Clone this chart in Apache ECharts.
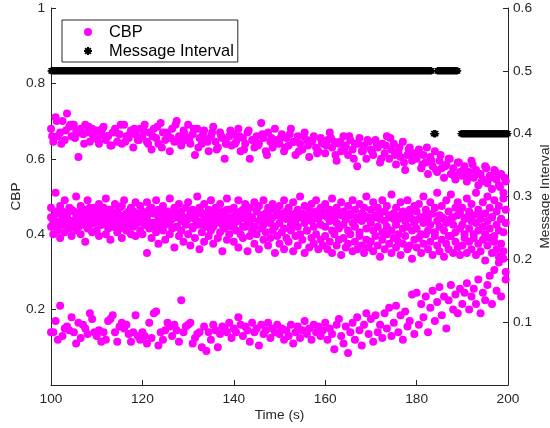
<!DOCTYPE html>
<html>
<head>
<meta charset="utf-8">
<script src="https://cdn.jsdelivr.net/npm/echarts@6/dist/echarts.min.js"></script>
<style>
html,body{margin:0;padding:0;background:#fff;}
#chart{width:550px;height:428px;}
</style>
</head>
<body>
<div id="chart"></div>
<script>
// ---- time grid for CBP samples ----
const tStart = 100;
const tStep = 0.5;
const tStartSparse = 100.25;
const tStepSparse = 1;

// ---- CBP values (upper band) ----
const cbpUpper = [
0.68,0.645,0.71,0.66,0.67,0.70,0.65,0.72,0.685,0.66, 0.69,0.675,0.605,0.68,0.665,0.69,0.67,0.645,0.68,0.655,
0.675,0.64,0.665,0.685,0.65,0.66,0.635,0.67,0.68,0.645, 0.665,0.64,0.69,0.66,0.655,0.675,0.63,0.665,0.65,0.68,
0.66,0.69,0.645,0.67,0.625,0.68,0.655,0.64,0.695,0.67, 0.65,0.665,0.62,0.68,0.645,0.70,0.66,0.635,0.675,0.65,
0.69,0.64,0.665,0.61,0.68,0.655,0.64,0.675,0.65,0.62, 0.66,0.685,0.645,0.63,0.67,0.655,0.60,0.64,0.66,0.635,
0.665,0.645,0.68,0.62,0.655,0.64,0.67,0.60,0.65,0.63, 0.66,0.64,0.695,0.655,0.62,0.67,0.645,0.63,0.68,0.65,
0.64,0.665,0.62,0.655,0.635,0.68,0.645,0.61,0.66,0.64, 0.625,0.67,0.65,0.605,0.645,0.66,0.63,0.62,0.655,0.64,
0.615,0.65,0.67,0.63,0.645,0.595,0.64,0.62,0.66,0.635, 0.61,0.65,0.625,0.64,0.58,0.655,0.62,0.635,0.60,0.645,
0.625,0.61,0.65,0.63,0.59,0.64,0.615,0.66,0.60,0.625, 0.64,0.585,0.62,0.605,0.645,0.57,0.61,0.63,0.595,0.615,
0.60,0.625,0.575,0.61,0.59,0.56,0.605,0.58,0.62,0.565, 0.595,0.575,0.55,0.585,0.60,0.56,0.575,0.545,0.59,0.565,
0.555,0.58,0.54,0.565,0.595,0.55,0.57,0.53,0.56,0.545, 0.58,0.535,0.555,0.52,0.57,0.545,0.53,0.56,0.51,0.54
];

// ---- CBP values (upper band, extra sparse samples) ----
const cbpUpper2 = [
0.66,0.70,0.64,0.675,0.69,0.655,0.67,0.64,0.685,0.66,
0.65,0.68,0.66,0.635,0.67,0.69,0.645,0.665,0.68,0.65,
0.675,0.64,0.66,0.685,0.63,0.67,0.655,0.69,0.645,0.665,
0.655,0.68,0.63,0.665,0.645,0.67,0.625,0.66,0.64,0.675,
0.64,0.66,0.625,0.675,0.65,0.635,0.665,0.61,0.655,0.64,
0.655,0.63,0.665,0.645,0.62,0.66,0.635,0.65,0.615,0.645,
0.635,0.655,0.61,0.645,0.625,0.66,0.60,0.64,0.62,0.65,
0.62,0.64,0.60,0.635,0.655,0.61,0.63,0.59,0.625,0.605,
0.615,0.585,0.63,0.595,0.57,0.61,0.58,0.60,0.555,0.59,
0.57,0.55,0.585,0.56,0.54,0.575,0.55,0.565,0.525,0.55
];

// ---- CBP values (middle band, upper part) ----
const cbpMiddleA = [
0.47,0.44,0.51,0.455,0.43,0.46,0.49,0.445,0.47,0.435, 0.46,0.50,0.45,0.475,0.44,0.465,0.49,0.455,0.43,0.47,
0.455,0.48,0.44,0.47,0.495,0.45,0.465,0.435,0.48,0.46, 0.445,0.475,0.49,0.455,0.44,0.47,0.46,0.485,0.45,0.475,
0.46,0.44,0.485,0.455,0.47,0.43,0.49,0.465,0.45,0.475, 0.44,0.46,0.495,0.455,0.47,0.445,0.48,0.46,0.435,0.47,
0.485,0.45,0.465,0.44,0.50,0.47,0.455,0.48,0.445,0.465, 0.49,0.455,0.47,0.44,0.48,0.46,0.45,0.495,0.465,0.44,
0.47,0.455,0.49,0.445,0.465,0.48,0.45,0.47,0.44,0.485, 0.46,0.475,0.445,0.49,0.455,0.47,0.43,0.48,0.465,0.45,
0.475,0.445,0.49,0.46,0.47,0.44,0.485,0.455,0.465,0.50, 0.45,0.475,0.44,0.465,0.48,0.455,0.49,0.445,0.47,0.46,
0.48,0.45,0.465,0.495,0.44,0.47,0.455,0.485,0.46,0.44, 0.475,0.45,0.49,0.465,0.44,0.48,0.455,0.47,0.50,0.445,
0.465,0.485,0.45,0.47,0.44,0.49,0.46,0.475,0.445,0.505, 0.455,0.47,0.44,0.485,0.46,0.45,0.49,0.465,0.44,0.475,
0.46,0.48,0.445,0.50,0.465,0.44,0.485,0.455,0.47,0.51, 0.45,0.475,0.44,0.49,0.46,0.505,0.445,0.47,0.485,0.455,
0.47,0.44,0.495,0.46,0.48,0.45,0.51,0.465,0.44,0.485, 0.455,0.50,0.47,0.445,0.49,0.46,0.475,0.44,0.495,0.465
];

// ---- CBP values (middle band, core) ----
const cbpMiddleC = [
0.445,0.43,0.46,0.42,0.475,0.44,0.425,0.455,0.43,0.465, 0.42,0.445,0.435,0.46,0.425,0.45,0.44,0.47,0.43,0.445,
0.435,0.46,0.425,0.45,0.43,0.465,0.44,0.455,0.42,0.445, 0.47,0.43,0.45,0.435,0.46,0.425,0.445,0.43,0.455,0.44,
0.45,0.425,0.44,0.465,0.43,0.455,0.42,0.445,0.435,0.46, 0.425,0.45,0.43,0.44,0.465,0.42,0.455,0.435,0.445,0.43,
0.44,0.455,0.42,0.45,0.435,0.465,0.425,0.44,0.455,0.43, 0.445,0.42,0.46,0.435,0.45,0.425,0.44,0.465,0.43,0.445,
0.425,0.45,0.435,0.46,0.42,0.44,0.455,0.43,0.445,0.42, 0.465,0.435,0.45,0.425,0.44,0.46,0.43,0.445,0.42,0.455,
0.43,0.455,0.415,0.44,0.46,0.425,0.45,0.435,0.42,0.445, 0.455,0.43,0.41,0.45,0.435,0.42,0.46,0.44,0.425,0.45,
0.42,0.445,0.435,0.41,0.455,0.43,0.415,0.45,0.425,0.44, 0.41,0.455,0.43,0.42,0.445,0.405,0.435,0.45,0.415,0.44,
0.43,0.41,0.445,0.42,0.455,0.405,0.435,0.42,0.45,0.41, 0.44,0.425,0.40,0.45,0.415,0.435,0.42,0.455,0.41,0.43,
0.415,0.44,0.40,0.43,0.45,0.41,0.425,0.455,0.405,0.435, 0.42,0.445,0.41,0.43,0.395,0.44,0.425,0.405,0.45,0.415,
0.425,0.40,0.445,0.415,0.435,0.39,0.43,0.41,0.45,0.42, 0.40,0.435,0.415,0.445,0.395,0.425,0.41,0.44,0.405,0.43
];

// ---- CBP values (middle band, lower part) ----
const cbpMiddleB = [
0.42,0.40,0.435,0.41,0.39,0.425,0.405,0.44,0.415,0.395, 0.43,0.41,0.42,0.40,0.435,0.38,0.415,0.425,0.405,0.43,
0.41,0.395,0.425,0.435,0.40,0.415,0.385,0.42,0.43,0.405, 0.415,0.39,0.425,0.41,0.44,0.40,0.42,0.395,0.43,0.41,
0.40,0.425,0.35,0.415,0.39,0.43,0.405,0.375,0.42,0.41, 0.385,0.43,0.40,0.415,0.365,0.42,0.395,0.41,0.38,0.425,
0.40,0.37,0.415,0.39,0.425,0.36,0.405,0.38,0.42,0.395, 0.41,0.375,0.43,0.39,0.405,0.355,0.415,0.385,0.40,0.42,
0.38,0.41,0.365,0.40,0.39,0.42,0.355,0.395,0.41,0.375, 0.40,0.36,0.415,0.385,0.405,0.37,0.39,0.41,0.35,0.395,
0.375,0.405,0.36,0.39,0.38,0.41,0.355,0.395,0.37,0.40, 0.385,0.35,0.41,0.365,0.39,0.375,0.40,0.36,0.385,0.37,
0.395,0.36,0.38,0.35,0.40,0.37,0.385,0.345,0.39,0.365, 0.375,0.40,0.355,0.38,0.36,0.395,0.37,0.35,0.385,0.365,
0.38,0.355,0.395,0.37,0.34,0.385,0.36,0.40,0.375,0.35, 0.39,0.365,0.38,0.345,0.375,0.395,0.36,0.37,0.335,0.385,
0.365,0.39,0.35,0.375,0.40,0.36,0.38,0.345,0.395,0.37, 0.355,0.385,0.34,0.375,0.36,0.395,0.35,0.38,0.365,0.345,
0.37,0.39,0.35,0.38,0.36,0.40,0.345,0.375,0.355,0.385, 0.33,0.37,0.39,0.35,0.38,0.36,0.34,0.375,0.355,0.30
];

// ---- CBP values (lower band) ----
const cbpLower = [
0.14,0.14,0.17,0.12,0.21,0.13,0.15,0.155,0.145,0.18, 0.14,0.11,0.165,0.125,0.16,0.15,0.135,0.19,0.175,0.14,
0.13,0.145,0.115,0.14,0.12,0.17,0.175,0.185,0.14,0.115, 0.155,0.165,0.15,0.16,0.135,0.115,0.14,0.185,0.13,0.12,
0.14,0.13,0.11,0.165,0.125,0.19,0.195,0.105,0.14,0.12, 0.145,0.165,0.155,0.13,0.16,0.145,0.115,0.225,0.14,0.155,
0.16,0.165,0.11,0.125,0.135,0.14,0.10,0.155,0.09,0.14, 0.12,0.16,0.145,0.10,0.135,0.155,0.15,0.14,0.165,0.125,
0.15,0.14,0.18,0.16,0.13,0.155,0.145,0.115,0.165,0.14, 0.15,0.105,0.16,0.135,0.145,0.165,0.125,0.15,0.14,0.16,
0.135,0.15,0.12,0.145,0.13,0.16,0.11,0.14,0.155,0.125, 0.145,0.17,0.135,0.15,0.12,0.16,0.14,0.155,0.13,0.145,
0.165,0.12,0.15,0.135,0.095,0.16,0.175,0.13,0.11,0.155, 0.085,0.14,0.165,0.12,0.18,0.145,0.105,0.16,0.19,0.135,
0.175,0.115,0.185,0.14,0.16,0.125,0.19,0.15,0.205,0.13, 0.165,0.21,0.14,0.185,0.12,0.195,0.155,0.17,0.24,0.135,
0.245,0.16,0.215,0.18,0.235,0.14,0.205,0.25,0.17,0.22, 0.26,0.185,0.235,0.15,0.225,0.265,0.20,0.24,0.19,0.255,
0.215,0.245,0.27,0.20,0.235,0.255,0.215,0.28,0.19,0.245, 0.225,0.265,0.29,0.215,0.305,0.25,0.325,0.235,0.335,0.28
];

// ---- Message interval: constant segments [tFrom, tTo, value] ----
const msgSegments = [
  [100.0, 183.3, 0.5],
  [183.7, 184.2, 0.4],
  [184.5, 189.0, 0.5],
  [189.7, 200.0, 0.4]
];
const msgStep = 0.1;

// ---- axis ticks ----
const xTicks = { min: 100, max: 200, interval: 20 };
const yLeftTicks = { min: 0, max: 1, interval: 0.2 };
const yRightTicks = { min: 0, max: 0.6, interval: 0.1 };

// ---- build data ----
function toPoints(vals, t0, dt) { return vals.map((v, i) => [t0 + i * dt, v]); }
const cbpData = [].concat(
  toPoints(cbpUpper, tStart, tStep),
  toPoints(cbpUpper2, tStartSparse, tStepSparse),
  toPoints(cbpMiddleA, tStart, tStep),
  toPoints(cbpMiddleC, tStart, tStep),
  toPoints(cbpMiddleB, tStart, tStep),
  toPoints(cbpLower, tStart, tStep)
);
const msgData = [];
msgSegments.forEach(([a, b, v]) => {
  const n = Math.round((b - a) / msgStep);
  for (let k = 0; k <= n; k++) msgData.push([+(a + k * msgStep).toFixed(2), v]);
});

const txt = '#262626';
const font = 'Liberation Sans, Arial, Helvetica, sans-serif';
const asterisk = 'path://M0,-5L0,5M-5,0L5,0M-3.6,-3.6L3.6,3.6M-3.6,3.6L3.6,-3.6';

const chart = echarts.init(document.getElementById('chart'), null, { renderer: 'canvas' });
chart.setOption({
  animation: false,
  backgroundColor: '#fff',
  textStyle: { fontFamily: font },
  grid: { left: 51, right: 42, top: 8, bottom: 43, outerBoundsMode: 'none' },
  legend: {
    orient: 'vertical',
    left: 62, top: 20,
    padding: [2.5, 4, 1.5, 21],
    itemWidth: 32, itemHeight: 8, itemGap: 0,
    backgroundColor: '#fff',
    borderColor: '#262626', borderWidth: 1, borderRadius: 0,
    textStyle: { fontSize: 16.4, color: '#000', lineHeight: 19, fontFamily: font },
    data: ['CBP', 'Message Interval']
  },
  xAxis: {
    type: 'value', min: xTicks.min, max: xTicks.max, interval: xTicks.interval,
    name: 'Time (s)', nameLocation: 'middle', nameGap: 23, nameMoveOverlap: false,
    nameTextStyle: { fontSize: 13.7, color: txt, fontFamily: font },
    axisLine: { show: true, lineStyle: { color: txt, width: 1 } },
    axisTick: { show: true, inside: true, length: 5, lineStyle: { color: txt } },
    axisLabel: { fontSize: 13.7, color: txt, margin: 7, fontFamily: font },
    splitLine: { show: false }
  },
  yAxis: [
    {
      type: 'value', position: 'left', min: yLeftTicks.min, max: yLeftTicks.max, interval: yLeftTicks.interval,
      name: 'CBP', nameLocation: 'middle', nameGap: 28, nameRotate: 90, nameMoveOverlap: false,
      nameTextStyle: { fontSize: 13.7, color: txt, fontFamily: font },
      axisLine: { show: true, onZero: false, lineStyle: { color: txt, width: 1 } },
      axisTick: { show: true, inside: true, length: 5, lineStyle: { color: txt } },
      axisLabel: { fontSize: 13.7, color: txt, margin: 6, showMinLabel: false, fontFamily: font },
      splitLine: { show: false }
    },
    {
      type: 'value', position: 'right', min: yRightTicks.min, max: yRightTicks.max, interval: yRightTicks.interval,
      name: 'Message Interval', nameLocation: 'middle', nameGap: 30, nameRotate: 90, nameMoveOverlap: false,
      nameTextStyle: { fontSize: 13.7, color: txt, fontFamily: font },
      axisLine: { show: true, onZero: false, lineStyle: { color: txt, width: 1 } },
      axisTick: { show: true, inside: true, length: 5, lineStyle: { color: txt } },
      axisLabel: { fontSize: 13.7, color: txt, margin: 5, showMinLabel: false, fontFamily: font },
      splitLine: { show: false }
    }
  ],
  series: [
    {
      name: 'CBP', type: 'scatter', yAxisIndex: 0,
      symbol: 'circle', symbolSize: 8,
      itemStyle: { color: '#FF00FF', opacity: 1 },
      data: cbpData
    },
    {
      name: 'Message Interval', type: 'scatter', yAxisIndex: 1,
      symbol: asterisk, symbolSize: 7,
      itemStyle: { color: '#000', borderColor: '#000', borderWidth: 1.2, opacity: 1 },
      data: msgData
    }
  ]
});
</script>
</body>
</html>
